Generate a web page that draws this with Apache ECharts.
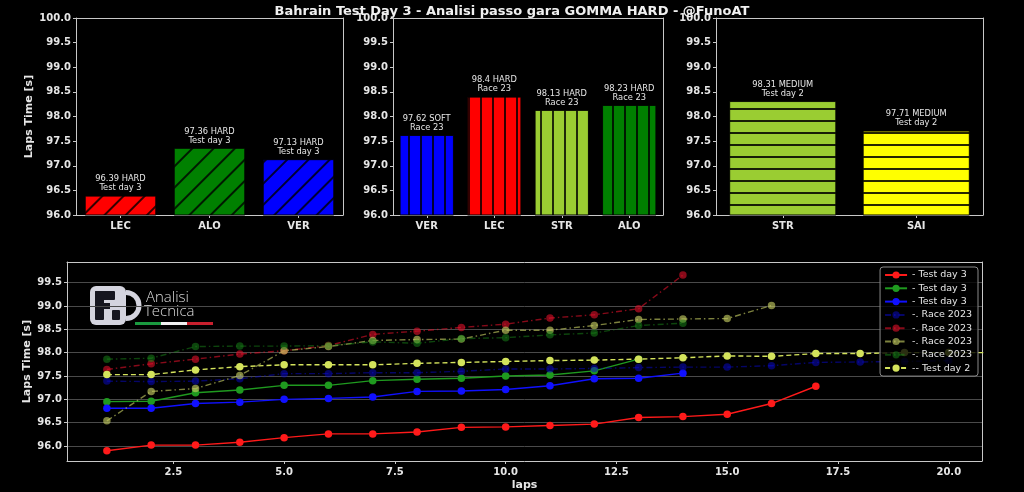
<!DOCTYPE html>
<html><head><meta charset="utf-8">
<script src="https://cdn.jsdelivr.net/npm/echarts@6/dist/echarts.min.js"></script>
<style>html,body{margin:0;padding:0;background:#000}#c{width:1024px;height:492px}</style>
</head><body><div id="c"></div>
<script>
// ---------- DATA ----------
const TITLE = 'Bahrain Test Day 3 - Analisi passo gara GOMMA HARD - @FunoAT';

const p1Cats = ['LEC', 'ALO', 'VER'];
const p1Vals = [96.39, 97.36, 97.13];
const p1Labels = ['96.39 HARD\nTest day 3', '97.36 HARD\nTest day 3', '97.13 HARD\nTest day 3'];

const p2Cats = ['VER', 'LEC', 'STR', 'ALO'];
const p2Vals = [97.62, 98.4, 98.13, 98.23];
const p2Labels = ['97.62 SOFT\nRace 23', '98.4 HARD\nRace 23', '98.13 HARD\nRace 23', '98.23 HARD\nRace 23'];

const p3Cats = ['STR', 'SAI'];
const p3Vals = [98.31, 97.71];
const p3Labels = ['98.31 MEDIUM\nTest day 2', '97.71 MEDIUM\nTest day 2'];

const lapTicksX = [2.5, 5.0, 7.5, 10.0, 12.5, 15.0, 17.5, 20.0];
const lapTicksY = [96.0, 96.5, 97.0, 97.5, 98.0, 98.5, 99.0, 99.5];

const lecTD3 = [95.90, 96.02, 96.02, 96.08, 96.18, 96.26, 96.26, 96.30, 96.40, 96.41, 96.44, 96.47, 96.61, 96.63, 96.68, 96.91, 97.28];
const aloTD3 = [96.95, 96.96, 97.14, 97.20, 97.30, 97.30, 97.40, 97.43, 97.45, 97.50, 97.52, 97.61, 97.86];
const verTD3 = [96.81, 96.81, 96.91, 96.94, 97.00, 97.02, 97.05, 97.17, 97.18, 97.21, 97.29, 97.44, 97.45, 97.56];
const verR23 = [97.39, 97.38, 97.39, 97.44, 97.55, 97.55, 97.57, 97.57, 97.60, 97.65, 97.65, 97.66, 97.68, 97.69, 97.69, 97.72, 97.79, 97.80, 97.81, 97.83];
const lecR23 = [97.64, 97.76, 97.86, 97.97, 98.04, 98.15, 98.39, 98.46, 98.54, 98.61, 98.74, 98.81, 98.94, 99.66];
const strR23 = [96.54, 97.17, 97.23, 97.51, 98.04, 98.13, 98.26, 98.28, 98.29, 98.48, 98.48, 98.58, 98.71, 98.72, 98.73, 99.01];
const aloR23 = [97.86, 97.88, 98.13, 98.14, 98.14, 98.15, 98.23, 98.20, 98.30, 98.32, 98.38, 98.42, 98.58, 98.63];
const saiTD2 = [97.53, 97.53, 97.63, 97.70, 97.74, 97.74, 97.74, 97.77, 97.79, 97.81, 97.83, 97.84, 97.86, 97.89, 97.93, 97.92, 97.98, 97.98, 98.00, 98.00, 98.00];

const legendNames = ['- Test day 3', '- Test day 3', '- Test day 3', '-. Race 2023', '-. Race 2023', '-. Race 2023', '-. Race 2023', '-- Test day 2'];

// ---------- STYLE ----------
const FONT = 'DejaVu Sans';
const AXC = '#c8c8c8';
const TXT = '#e6e6e6';

const chart = echarts.init(document.getElementById('c'), null, {renderer: 'canvas'});

function barYAxis(idx, withName) {
  return {
    type: 'value', gridIndex: idx, min: 96, max: 100, interval: 0.5,
    name: withName ? 'Laps Time [s]' : '', nameLocation: 'middle', nameGap: 41, nameRotate: 90,
    nameTextStyle: {color: TXT, fontFamily: FONT, fontWeight: 'bold', fontSize: 11},
    axisLine: {show: true, lineStyle: {color: AXC, width: 1}},
    axisTick: {show: true, length: 3, lineStyle: {color: AXC}},
    axisLabel: {color: TXT, fontFamily: FONT, fontWeight: 'bold', fontSize: 10, margin: 5,
      formatter: v => v.toFixed(1)},
    splitLine: {show: false}
  };
}
function barXAxis(idx, cats) {
  return {
    type: 'category', gridIndex: idx, data: cats,
    axisLine: {show: true, lineStyle: {color: AXC, width: 1}},
    axisTick: {show: true, alignWithLabel: true, length: 3, lineStyle: {color: AXC}},
    axisLabel: {color: TXT, fontFamily: FONT, fontWeight: 'bold', fontSize: 10, margin: 6}
  };
}
function topFrame(idx) {
  return {type: 'value', gridIndex: idx, position: 'top', min: 0, max: 1, axisLine: {show: true, onZero: false, lineStyle: {color: AXC}}, axisTick: {show: false}, axisLabel: {show: false}, splitLine: {show: false}};
}
function rightFrame(idx) {
  return {type: 'value', gridIndex: idx, position: 'right', min: 0, max: 1, axisLine: {show: true, onZero: false, lineStyle: {color: AXC}}, axisTick: {show: false}, axisLabel: {show: false}, splitLine: {show: false}};
}

const hatchDiag = {symbol: 'rect', symbolSize: 1, dashArrayX: [1, 0], dashArrayY: [1.3, 12.5], rotation: -Math.PI / 4, color: 'rgba(0,0,0,0.8)'};
const hatchVert = {symbol: 'rect', symbolSize: 1, dashArrayX: [1.4, 9.2], dashArrayY: [1, 0], rotation: 0, color: 'rgba(0,0,0,0.8)'};
const hatchHorz = {symbol: 'rect', symbolSize: 1, dashArrayX: [1, 0], dashArrayY: [1.5, 9.2], rotation: 0, color: 'rgba(0,0,0,0.85)'};

function barSeries(idx, vals, labels, colors, decal) {
  return {
    type: 'bar', xAxisIndex: idx, yAxisIndex: idx, barCategoryGap: '20%',
    data: vals.map((v, i) => ({value: v, itemStyle: {color: colors[i], decal: decal}})),
    itemStyle: {borderColor: '#000', borderWidth: 0.6},
    label: {show: true, position: 'top', distance: 3, color: TXT, fontFamily: FONT, fontSize: 8.3, lineHeight: 9,
      align: 'center', formatter: p => labels[p.dataIndex]},
    emphasis: {disabled: true}
  };
}

const DASHDOT = [6, 3, 1.5, 3];
function lineSeries(name, vals, color, opts) {
  opts = opts || {};
  const op = opts.opacity == null ? 1 : opts.opacity;
  return {
    type: 'line', name: name, xAxisIndex: 3, yAxisIndex: 4,
    data: vals.map((v, i) => [i + 1, v]),
    symbol: 'circle', symbolSize: 7.5, showSymbol: true,
    lineStyle: {color: color, width: 1.4, type: opts.type || 'solid', opacity: op},
    itemStyle: {color: color, opacity: op},
    emphasis: {disabled: true}, animation: false
  };
}

const seriesNames = legendNames.map((n, i) => 's' + i + '|' + n);

const option = {
  backgroundColor: '#000',
  animation: false,
  title: {text: TITLE, left: 'center', top: 0,
    textStyle: {color: '#f0f0f0', fontFamily: FONT, fontWeight: 'bold', fontSize: 13}},
  grid: [
    {left: 76, top: 18, width: 267, height: 197},
    {left: 393, top: 18, width: 270, height: 197},
    {left: 716, top: 18, width: 267, height: 197},
    {left: 67, top: 262, width: 915, height: 201}
  ],
  xAxis: [
    barXAxis(0, p1Cats), barXAxis(1, p2Cats), barXAxis(2, p3Cats),
    {type: 'value', gridIndex: 3, min: 0.1, max: 20.75, name: 'laps', nameLocation: 'middle', nameGap: 19,
      nameTextStyle: {color: TXT, fontFamily: FONT, fontWeight: 'bold', fontSize: 11},
      axisLine: {show: true, onZero: false, lineStyle: {color: AXC}},
      axisTick: {show: true, length: 3, customValues: lapTicksX, lineStyle: {color: AXC}},
      axisLabel: {color: TXT, fontFamily: FONT, fontWeight: 'bold', fontSize: 10, margin: 6, customValues: lapTicksX,
        formatter: v => v.toFixed(1)},
      splitLine: {show: false}},
    topFrame(0), topFrame(1), topFrame(2), topFrame(3)
  ],
  yAxis: [
    barYAxis(0, true), barYAxis(1, false), barYAxis(2, false),
    rightFrame(0),
    {type: 'value', gridIndex: 3, min: 95.68, max: 99.94, name: 'Laps Time [s]', nameLocation: 'middle', nameGap: 34, nameRotate: 90,
      nameMoveOverlap: false,
      nameTextStyle: {color: TXT, fontFamily: FONT, fontWeight: 'bold', fontSize: 11},
      axisLine: {show: true, onZero: false, lineStyle: {color: AXC}},
      axisTick: {show: true, length: 3, customValues: lapTicksY, lineStyle: {color: AXC}},
      axisLabel: {color: TXT, fontFamily: FONT, fontWeight: 'bold', fontSize: 10, margin: 5, customValues: lapTicksY,
        formatter: v => v.toFixed(1)},
      splitLine: {show: true, lineStyle: {color: '#4a4a4a', width: 1}}},
    rightFrame(1), rightFrame(2), rightFrame(3)
  ],
  legend: {
    orient: 'vertical', right: 46, top: 267,
    data: seriesNames,
    formatter: n => n.split('|')[1],
    itemWidth: 22, itemHeight: 9, itemGap: 3.3,
    padding: [3, 6, 3, 4],
    backgroundColor: 'rgba(0,0,0,0.8)', borderColor: '#8a8a8a', borderWidth: 1, borderRadius: 3,
    textStyle: {color: TXT, fontFamily: FONT, fontSize: 9.5},
    selectedMode: false
  },
  series: [
    barSeries(0, p1Vals, p1Labels, ['#ff0000', '#008000', '#0000ff'], hatchDiag),
    barSeries(1, p2Vals, p2Labels, ['#0000ff', '#ff0000', '#9acd32', '#008000'], hatchVert),
    barSeries(2, p3Vals, p3Labels, ['#9acd32', '#ffff00'], hatchHorz),
    lineSeries(seriesNames[0], lecTD3, '#ff1a1a'),
    lineSeries(seriesNames[1], aloTD3, '#1f9a1f'),
    lineSeries(seriesNames[2], verTD3, '#1010ff'),
    lineSeries(seriesNames[3], verR23, '#0a0ad0', {type: DASHDOT, opacity: 0.5}),
    lineSeries(seriesNames[4], lecR23, '#e0102a', {type: DASHDOT, opacity: 0.6}),
    lineSeries(seriesNames[5], strR23, '#c0c860', {type: DASHDOT, opacity: 0.65}),
    lineSeries(seriesNames[6], aloR23, '#1a8a1a', {type: DASHDOT, opacity: 0.5}),
    lineSeries(seriesNames[7], saiTD2, '#d4e35c', {type: [5, 3]})
  ],
  graphic: [
    {type: 'group', left: 90, top: 286, z: 1, children: [
      {type: 'rect', shape: {x: 0, y: 0, width: 36, height: 39, r: 6}, style: {fill: '#d4d4de'}},
      {type: 'arc', shape: {cx: 36, cy: 19.5, r: 13, startAngle: -Math.PI / 2, endAngle: Math.PI / 2}, style: {stroke: '#d4d4de', lineWidth: 5, fill: null}},
      {type: 'rect', shape: {x: 5, y: 5, width: 9, height: 29, r: 1}, style: {fill: '#16161f'}},
      {type: 'rect', shape: {x: 5, y: 5, width: 20, height: 9, r: 1}, style: {fill: '#16161f'}},
      {type: 'rect', shape: {x: 5, y: 17, width: 15, height: 6}, style: {fill: '#16161f'}},
      {type: 'rect', shape: {x: 22, y: 24, width: 8, height: 10, r: 1}, style: {fill: '#16161f'}},
      {type: 'text', x: 56, y: 4, style: {text: 'Analisi', fill: '#dcdcdc', font: '300 15px "Open Sans"'}},
      {type: 'text', x: 54, y: 18, style: {text: 'Tecnica', fill: '#dcdcdc', font: '300 15px "Open Sans"'}},
      {type: 'rect', shape: {x: 45, y: 36, width: 26, height: 3}, style: {fill: '#1b9a40'}},
      {type: 'rect', shape: {x: 71, y: 36, width: 26, height: 3}, style: {fill: '#f0f0f0'}},
      {type: 'rect', shape: {x: 97, y: 36, width: 26, height: 3}, style: {fill: '#c8202e'}}
    ]}
  ]
};
chart.setOption(option);
</script>
</body></html>
